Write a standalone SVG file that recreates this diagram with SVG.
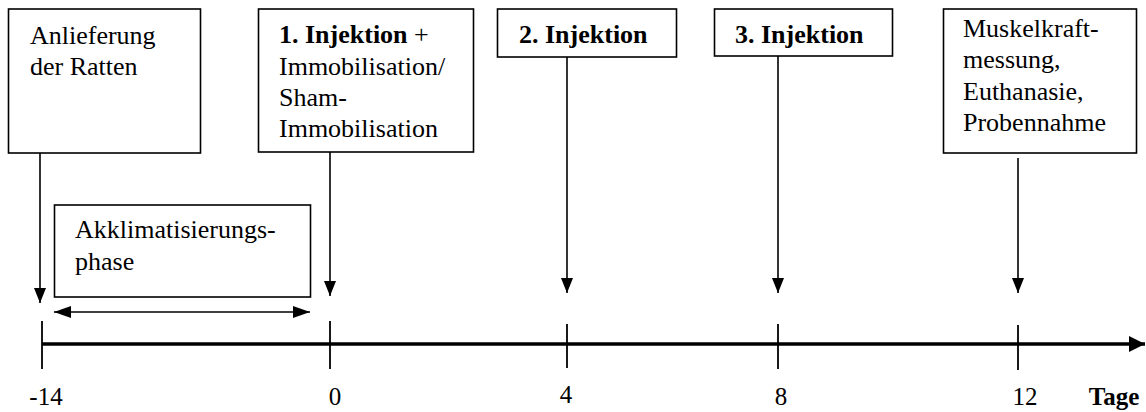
<svg xmlns="http://www.w3.org/2000/svg" width="1146" height="412" viewBox="0 0 1146 412">
<style>
.box{fill:#fff;stroke:#000;stroke-width:1.6}
.txt{font-family:"Liberation Serif","Times New Roman",serif;font-size:26px;fill:#000}
.bd{font-weight:bold}
.lab{font-family:"Liberation Serif","Times New Roman",serif;font-size:25px;fill:#000;text-anchor:middle}
.ln{stroke:#000;stroke-width:1.6;fill:none}
.ax{stroke:#000;stroke-width:3.4;fill:none}
.tk{stroke:#000;stroke-width:1.8}
</style>
<defs>
<marker id="ah" viewBox="0 0 15 12" refX="15" refY="6" markerWidth="15" markerHeight="12" markerUnits="userSpaceOnUse" orient="auto-start-reverse">
<path d="M0,0 L15,6 L0,12 Z" fill="#000"/>
</marker>
<marker id="ah2" viewBox="0 0 17 12" refX="17" refY="6" markerWidth="17" markerHeight="12" markerUnits="userSpaceOnUse" orient="auto-start-reverse">
<path d="M0,0 L17,6 L0,12 Z" fill="#000"/>
</marker>
<marker id="ahx" viewBox="0 0 16 16" refX="16" refY="8" markerWidth="16" markerHeight="16" markerUnits="userSpaceOnUse" orient="auto">
<path d="M0,0 L16,8 L0,16 Z" fill="#000"/>
</marker>
</defs>
<g id="n1">
<rect class="box" x="8.5" y="9" width="192" height="144"/>
<text class="txt" x="30" y="44">Anlieferung</text>
<text class="txt" x="30" y="75">der Ratten</text>
</g>
<g id="n2">
<rect class="box" x="258.5" y="9" width="215" height="143"/>
<text class="txt" x="279" y="43"><tspan class="bd">1. Injektion</tspan> +</text>
<text class="txt" x="279" y="75">Immobilisation/</text>
<text class="txt" x="279" y="106">Sham-</text>
<text class="txt" x="279" y="137">Immobilisation</text>
</g>
<g id="n3">
<rect class="box" x="497.5" y="9" width="179" height="48"/>
<text class="txt bd" x="519" y="43">2. Injektion</text>
</g>
<g id="n4">
<rect class="box" x="714.5" y="9" width="178" height="47"/>
<text class="txt bd" x="735" y="43">3. Injektion</text>
</g>
<g id="n5">
<rect class="box" x="943.5" y="9" width="193" height="144"/>
<text class="txt" x="963" y="37">Muskelkraft-</text>
<text class="txt" x="963" y="68">messung,</text>
<text class="txt" x="963" y="100">Euthanasie,</text>
<text class="txt" x="963" y="131">Probennahme</text>
</g>
<g id="n6">
<rect class="box" x="54.5" y="205" width="256" height="92"/>
<text class="txt" x="75" y="238">Akklimatisierungs-</text>
<text class="txt" x="75" y="270">phase</text>
</g>
<g id="connectors">
<line class="ln" x1="40" y1="153" x2="40" y2="303" marker-end="url(#ah)"/>
<line class="ln" x1="330" y1="152" x2="330" y2="296" marker-end="url(#ah)"/>
<line class="ln" x1="567" y1="57" x2="567" y2="293" marker-end="url(#ah)"/>
<line class="ln" x1="778" y1="56" x2="778" y2="293" marker-end="url(#ah)"/>
<line class="ln" x1="1018" y1="158" x2="1018" y2="293" marker-end="url(#ah)"/>
<line class="ln" x1="54" y1="312" x2="310" y2="312" marker-start="url(#ah2)" marker-end="url(#ah2)"/>
</g>
<g id="axis">
<line class="ax" x1="42" y1="344" x2="1145" y2="344" marker-end="url(#ahx)"/>
<line class="tk" x1="42" y1="321" x2="42" y2="369"/>
<line class="tk" x1="330" y1="321" x2="330" y2="369"/>
<line class="tk" x1="567" y1="324" x2="567" y2="368"/>
<line class="tk" x1="778" y1="324" x2="778" y2="369"/>
<line class="tk" x1="1018" y1="325" x2="1018" y2="370"/>
<text class="lab" x="46" y="405">-14</text>
<text class="lab" x="335" y="405">0</text>
<text class="lab" x="566" y="403">4</text>
<text class="lab" x="781" y="405">8</text>
<text class="lab" x="1025" y="405">12</text>
<text class="lab bd" x="1114" y="405">Tage</text>
</g>
</svg>
